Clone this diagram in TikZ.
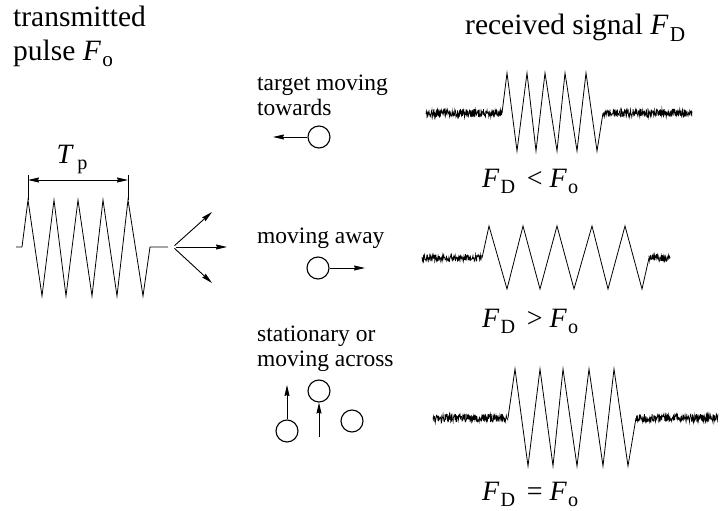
\documentclass[tikz,border=0pt]{standalone}
\usepackage{fontspec}
\setmainfont{Liberation Serif}
\usepackage{graphicx}
\usetikzlibrary{arrows.meta}
\newcommand{\freq}[1]{\textit{F}\kern0.04em\raisebox{-0.22em}{\scalebox{0.72}{#1}}}
\newcommand{\tpulse}{\textit{T}\kern0.12em\raisebox{-0.24em}{\scalebox{0.72}{p}}}
\pgfmathsetseed{7}

\begin{document}
\begin{tikzpicture}[
  x=1pt,y=-1pt,
  title/.style={font=\fontsize{29.5}{33}\selectfont,align=left,inner sep=0pt,anchor=base west},
  caption/.style={font=\fontsize{23.5}{25}\selectfont,align=left,inner sep=0pt,anchor=base west},
  relation/.style={font=\fontsize{28}{30}\selectfont,inner sep=0pt,anchor=base west},
  wave/.style={line width=0.8pt,line join=miter},
  noise/.style={line width=0.7pt},
  target/.style={draw,circle,minimum size=22pt,inner sep=0pt,line width=1.1pt},
  arr/.style={-{Stealth[length=11pt,width=5pt,inset=1pt]},line width=0.9pt},
  dim/.style={{Stealth[length=11pt,width=5pt,inset=1pt]}-{Stealth[length=11pt,width=5pt,inset=1pt]},line width=0.9pt}
]
\useasboundingbox (0,0) rectangle (720,511);

% Titles (base = last line)
\node[title] (txtitle) at (13,60) {transmitted\\pulse \freq{o}};
\node[title] (rxtitle) at (465,35) {received signal \freq{D}};

% Transmitted pulse
\draw[wave] (16,247) -- (22,247) -- (28,200) -- (42,296) -- (54,200) -- (66,296)
  -- (78,200) -- (92,296) -- (103,200) -- (117,296) -- (128,200) -- (143,296)
  -- (150,247) -- (168,247);
\coordinate (tpl) at (28,180);
\coordinate (tpr) at (128,180);
\draw[line width=0.9pt] (28,175) -- (28,200);
\draw[line width=0.9pt] (128,175) -- (128,200);
\draw[dim] (tpl) -- (tpr);
\node[relation,anchor=base] (tp) at (72,163) {\tpulse};

% Fan of beams
\coordinate (fan) at (173,247);
\coordinate (beamup) at (212,212);
\coordinate (beammid) at (227,247);
\coordinate (beamdown) at (212,283);
\draw[arr,shorten <=2pt] (fan) -- (beamup);
\draw[arr,shorten <=3pt] (fan) -- (beammid);
\draw[arr,shorten <=2pt] (fan) -- (beamdown);

% Targets
\node[caption] (towtext) at (257,115) {target moving\\towards};
\node[target] (tow) at (319,137) {};
\coordinate (towtip) at (273,137);
\draw[arr] (tow) -- (towtip);

\node[caption] (awaytext) at (257,243) {moving away};
\node[target] (away) at (318,268) {};
\coordinate (awaytip) at (365,268);
\draw[arr] (away) -- (awaytip);

\node[caption] (statext) at (257,366) {stationary or\\moving across};
\node[target] (sta) at (287,431) {};
\node[target] (stb) at (319,391) {};
\node[target] (stc) at (352,421) {};
\coordinate (statip) at (287,385);
\coordinate (stbtail) at (319,437);
\draw[arr] (sta) -- (statip);
\draw[arr] (stbtail) -- (stb);

% Received: towards
\draw[noise] plot[domain=426:502,samples=230] (\x,{113+4*rand});
\draw[wave] (502,113) -- (507,73) -- (517,151) -- (527,73) -- (536,151) -- (545,73)
  -- (557,151) -- (565,73) -- (577,151) -- (586,73) -- (597,151) -- (603,113);
\draw[noise] plot[domain=603:692,samples=270] (\x,{113+4*rand});
\node[relation] (lt) at (482,187) {\freq{D}\ \,< \freq{o}};

% Received: away
\draw[noise] plot[domain=422:482,samples=180] (\x,{258+3.5*rand});
\draw[wave] (482,258) -- (489,226) -- (507,289) -- (523,226) -- (540,289) -- (557,226)
  -- (574,289) -- (592,226) -- (608,289) -- (625,226) -- (642,289) -- (649,258);
\draw[noise] plot[domain=649:670,samples=65] (\x,{258+3.5*rand});
\node[relation] (gt) at (482,327) {\freq{D}\ \,> \freq{o}};

% Received: across
\draw[noise] plot[domain=433:508,samples=225] (\x,{418+4*rand});
\draw[wave] (508,418) -- (515,369) -- (528,466) -- (540,369) -- (553,466) -- (563,369)
  -- (577,466) -- (589,369) -- (603,466) -- (614,369) -- (628,466) -- (636,418);
\draw[noise] plot[domain=636:718,samples=245] (\x,{418+4*rand});
\node[relation] (eq) at (482,500) {\freq{D}\ \,= \freq{o}};

\end{tikzpicture}
\end{document}
